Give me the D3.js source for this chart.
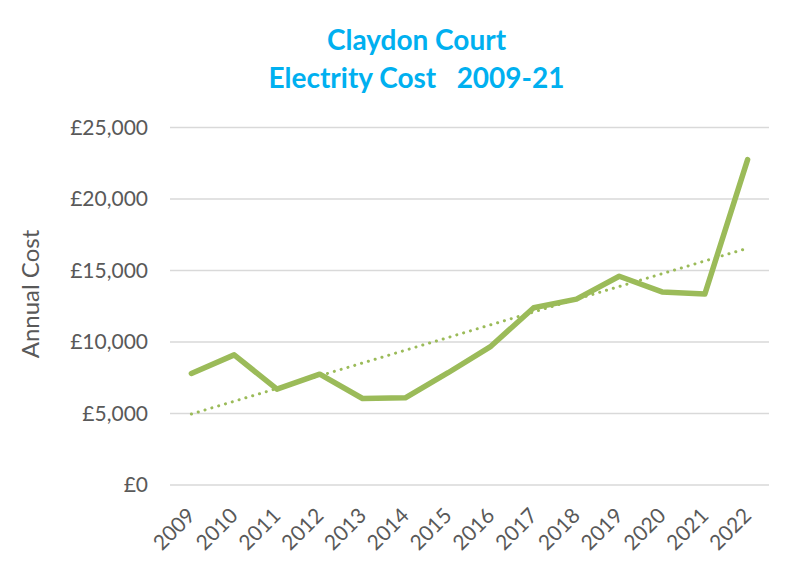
<!DOCTYPE html>
<html><head><meta charset="utf-8">
<script src="https://cdn.jsdelivr.net/npm/d3@7"></script>
<style>body{margin:0;background:#fff;} svg{display:block;}</style>
</head><body>
<svg id="c" width="790" height="569"></svg>
<script>
const years = ["2009","2010","2011","2012","2013","2014","2015","2016","2017","2018","2019","2020","2021","2022"];
const costs = [7800,9100,6700,7750,6050,6100,7850,9700,12400,13000,14600,13500,13350,22750];
const yTicks = [0,5000,10000,15000,20000,25000];
const titleLines = ["Claydon Court","Electrity Cost\u00a0\u00a0\u00a02009-21"];
const yTitle = "Annual Cost";

const font = "Lato, 'Open Sans', sans-serif";
const svg = d3.select("#c");
const m = {l:170, r:769, t:127.5, b:485};
const x = d3.scaleBand().domain(years).range([m.l, m.r]);
const y = d3.scaleLinear().domain([0,25000]).range([m.b, m.t]);
const cx = d => x(d) + x.bandwidth()/2;

// gridlines
svg.append("g").selectAll("line").data(yTicks).join("line")
  .attr("x1", m.l).attr("x2", m.r)
  .attr("y1", d=>y(d)).attr("y2", d=>y(d))
  .attr("stroke", "#d9d9d9").attr("stroke-width", 1.5);

// y axis labels
const yAxis = d3.axisLeft(y).tickValues(yTicks).tickSize(0).tickPadding(0)
  .tickFormat(d => "£" + d3.format(",")(d));
const gy = svg.append("g").attr("transform", `translate(${m.l-22},0)`).call(yAxis);
gy.select(".domain").remove();
gy.selectAll("text").attr("font-family", font).attr("font-size", 21).attr("fill", "#595959");

// x axis labels
const xAxis = d3.axisBottom(x).tickSize(0).tickPadding(0);
const gx = svg.append("g").attr("transform", `translate(0,${m.b})`).call(xAxis);
gx.select(".domain").remove();
gx.selectAll("text")
  .attr("font-family", font).attr("font-size", 21).attr("fill", "#595959")
  .attr("text-anchor", "end").attr("dy", null).attr("y", 0)
  .attr("transform", "translate(5,32) rotate(-45)");

// trendline (least squares)
const n = costs.length;
const xs = d3.range(n);
const mx = d3.mean(xs), my = d3.mean(costs);
const slope = d3.sum(xs, i => (i-mx)*(costs[i]-my)) / d3.sum(xs, i => (i-mx)*(i-mx));
const icpt = my - slope*mx;
const trend = years.map((yr,i) => ({yr, v: icpt + slope*i}));
svg.append("path").datum(trend)
  .attr("d", d3.line().x(d=>cx(d.yr)).y(d=>y(d.v)))
  .attr("fill","none").attr("stroke","#9bbb59").attr("stroke-width",3)
  .attr("stroke-linecap","round").attr("stroke-dasharray","0.1 7");

// main line
svg.append("path").datum(years.map((yr,i)=>({yr, v:costs[i]})))
  .attr("d", d3.line().x(d=>cx(d.yr)).y(d=>y(d.v)))
  .attr("fill","none").attr("stroke","#9bbb59").attr("stroke-width",5.5)
  .attr("stroke-linejoin","round").attr("stroke-linecap","round");

// title
svg.append("g").selectAll("text").data(titleLines).join("text")
  .attr("x", 416.5).attr("y", (d,i)=> 50 + i*38).attr("text-anchor","middle")
  .attr("font-family", font).attr("font-weight", "bold").attr("font-size", 28)
  .attr("fill", "#00b0f0").text(d=>d);

// y title
svg.append("text").attr("transform", "translate(39,294) rotate(-90)")
  .attr("text-anchor","middle").attr("font-family", font).attr("font-size", 24)
  .attr("fill","#595959").text(yTitle);
</script>
</body></html>
